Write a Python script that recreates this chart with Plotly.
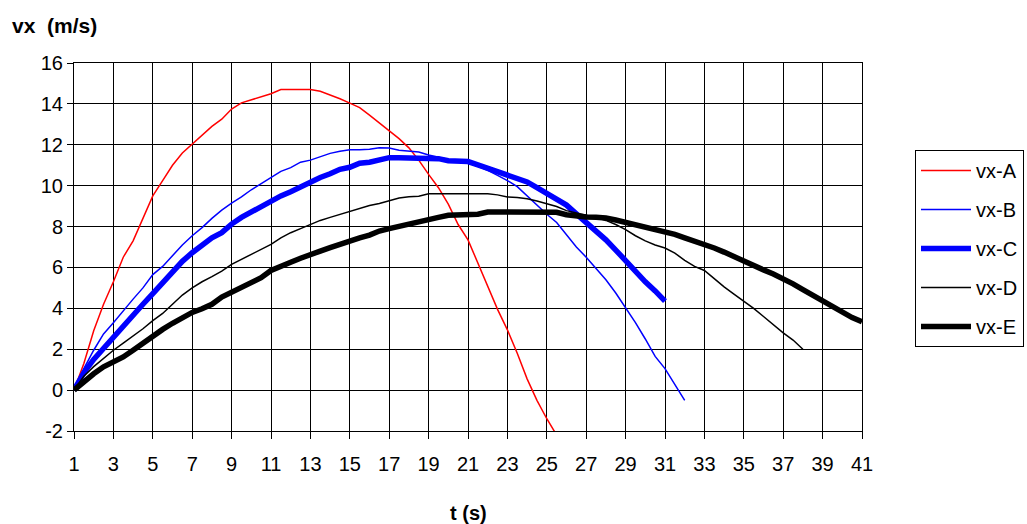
import plotly.graph_objects as go

# time axis (s)
t_A = [1 + 0.5 * i for i in range(50)]   # 1 .. 25.5
t_B = [1 + 0.5 * i for i in range(63)]   # 1 .. 32
t_C = [1 + 0.5 * i for i in range(61)]   # 1 .. 31
t_D = [1 + 0.5 * i for i in range(75)]   # 1 .. 38
t_E = [1 + 0.5 * i for i in range(81)]   # 1 .. 41

vx_A = [0, 1.3, 2.9, 4.2, 5.3, 6.5, 7.3, 8.4, 9.5, 10.25,
        11.0, 11.6, 12.05, 12.5, 12.9, 13.25, 13.75, 14.05, 14.2, 14.37,
        14.5, 14.7, 14.7, 14.7, 14.7, 14.62, 14.45, 14.25, 14.04, 13.82,
        13.45, 13.08, 12.7, 12.3, 11.85, 11.25, 10.55, 9.9, 9.1, 8.1,
        7.35, 6.2, 5.05, 3.95, 2.95, 1.8, 0.55, -0.5, -1.4, -2.2]

vx_B = [0, 1.05, 1.95, 2.75, 3.3, 3.9, 4.45, 5.0, 5.65, 6.05,
        6.6, 7.1, 7.55, 7.95, 8.4, 8.8, 9.15, 9.45, 9.8, 10.1,
        10.4, 10.7, 10.88, 11.15, 11.25, 11.43, 11.58, 11.68, 11.76, 11.76,
        11.78, 11.86, 11.84, 11.73, 11.68, 11.65, 11.5, 11.38, 11.28, 11.2,
        11.15, 10.95, 10.75, 10.5, 10.25, 9.95, 9.5, 9.0, 8.6, 8.2,
        7.6, 7.0, 6.5, 5.95, 5.4, 4.75, 4.05, 3.3, 2.5, 1.65,
        1.05, 0.3, -0.5]

vx_C = [0, 0.85, 1.5, 2.05, 2.6, 3.18, 3.75, 4.2, 4.72, 5.25,
        5.8, 6.3, 6.72, 7.1, 7.45, 7.7, 8.12, 8.45, 8.72, 9.0,
        9.2, 9.5, 9.7, 9.95, 10.15, 10.4, 10.58, 10.8, 10.9, 11.1,
        11.15, 11.25, 11.37, 11.37, 11.37, 11.37, 11.37, 11.32, 11.22, 11.22,
        11.18, 11.02, 10.85, 10.65, 10.5, 10.35, 10.18, 9.9, 9.62, 9.4,
        9.05, 8.62, 8.2, 7.8, 7.35, 6.85, 6.3, 5.8, 5.3, 4.85,
        4.35]

vx_D = [0, 0.68, 1.15, 1.55, 1.95, 2.3, 2.65, 3.0, 3.4, 3.75,
        4.2, 4.65, 5.0, 5.3, 5.55, 5.82, 6.15, 6.4, 6.65, 6.9,
        7.13, 7.45, 7.7, 7.9, 8.1, 8.3, 8.45, 8.6, 8.72, 8.9,
        9.03, 9.13, 9.25, 9.4, 9.46, 9.48, 9.6, 9.6, 9.6, 9.6,
        9.6, 9.6, 9.6, 9.55, 9.45, 9.42, 9.36, 9.25, 9.1, 8.98,
        8.78, 8.65, 8.55, 8.45, 8.3, 8.1, 7.85, 7.55, 7.3, 7.1,
        6.95, 6.7, 6.35, 6.05, 5.85, 5.45, 5.05, 4.7, 4.35, 4.0,
        3.6, 3.2, 2.8, 2.45, 2.0]

vx_E = [0, 0.42, 0.8, 1.14, 1.38, 1.62, 1.95, 2.3, 2.67, 2.97,
        3.27, 3.55, 3.8, 3.98, 4.2, 4.55, 4.8, 5.05, 5.25, 5.5,
        5.85, 6.02, 6.25, 6.45, 6.6, 6.8, 6.97, 7.15, 7.33, 7.45,
        7.58, 7.78, 7.9, 8.02, 8.14, 8.24, 8.34, 8.45, 8.55, 8.57,
        8.6, 8.6, 8.71, 8.71, 8.71, 8.71, 8.71, 8.71, 8.71, 8.7,
        8.58, 8.5, 8.47, 8.45, 8.42, 8.32, 8.2, 8.1, 8.0, 7.88,
        7.78, 7.62, 7.45, 7.3, 7.14, 6.95, 6.75, 6.52, 6.28, 6.1,
        5.88, 5.68, 5.46, 5.2, 4.92, 4.65, 4.32, 4.05, 3.78, 3.55,
        3.34]

# tick labels
x_ticks = list(range(1, 42, 2))
x_ticklabels = [str(v) for v in x_ticks]
y_ticks = list(range(-2, 17, 2))
y_ticklabels = [str(v) for v in y_ticks]   # plain hyphen for "-2"

series = [
    ("vx-A", t_A, vx_A, "#ff0000", 1.5),
    ("vx-B", t_B, vx_B, "#0000ff", 1.5),
    ("vx-C", t_C, vx_C, "#0000ff", 5.5),
    ("vx-D", t_D, vx_D, "#000000", 1.5),
    ("vx-E", t_E, vx_E, "#000000", 5.5),
]

FONT = "Liberation Sans, Arial, sans-serif"

fig = go.Figure()
for i, (name, t, v, col, w) in enumerate(series):
    fig.add_trace(go.Scatter(
        x=t, y=v, name=name, mode="lines",
        line=dict(color=col, width=w),
        legendgroup=f"g{i}",
    ))

fig.update_layout(
    width=1027, height=524,
    margin=dict(l=74, r=165, t=63, b=93, autoexpand=False),
    paper_bgcolor="white", plot_bgcolor="white",
    font=dict(family=FONT, size=20, color="black"),
    showlegend=True,
    legend=dict(
        x=915 / 1027, xref="container", xanchor="left",
        y=1 - 150 / 524, yref="container", yanchor="top",
        bordercolor="black", borderwidth=1,
        font=dict(family=FONT, size=20, color="black"),
        tracegroupgap=10, traceorder="grouped",
        itemwidth=50,
    ),
    xaxis=dict(
        range=[1, 41], tickmode="array", tickvals=x_ticks, ticktext=x_ticklabels,
        showgrid=True, gridcolor="black", gridwidth=1,
        showline=True, linecolor="black", linewidth=1, mirror=True,
        ticks="outside", ticklen=7, tickcolor="black",
        ticklabelstandoff=8,
        zeroline=False, automargin=False,
    ),
    yaxis=dict(
        range=[-2, 16], tickmode="array", tickvals=y_ticks, ticktext=y_ticklabels,
        showgrid=True, gridcolor="black", gridwidth=1,
        showline=True, linecolor="black", linewidth=1, mirror=True,
        ticks="outside", ticklen=6, tickcolor="black",
        zeroline=False, automargin=False,
    ),
    annotations=[
        dict(
            text="<b>vx\u00a0 (m/s)</b>", xref="paper", yref="paper",
            x=-64 / 788, y=1 + 38 / 368,
            xanchor="left", yanchor="middle", showarrow=False,
            font=dict(family=FONT, size=21, color="black"),
        ),
        dict(
            text="<b>t (s)</b>", xref="paper", yref="paper",
            x=0.5, y=-82 / 368,
            xanchor="center", yanchor="middle", showarrow=False,
            font=dict(family=FONT, size=20, color="black"),
        ),
    ],
)

fig.write_html("out.html")
